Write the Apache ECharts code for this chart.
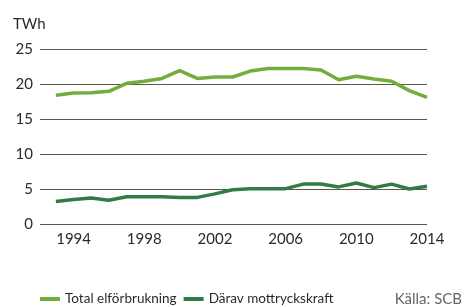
<!DOCTYPE html>
<html>
<head>
<meta charset="utf-8">
<script src="https://cdn.jsdelivr.net/npm/echarts@6/dist/echarts.min.js"></script>
<style>
  html, body { margin: 0; padding: 0; background: #fff; }
  #main { width: 469px; height: 307px; }
</style>
</head>
<body>
<div id="main"></div>
<script>
const years = [1993, 1994, 1995, 1996, 1997, 1998, 1999, 2000, 2001, 2002, 2003,
  2004, 2005, 2006, 2007, 2008, 2009, 2010, 2011, 2012, 2013, 2014];
const total = [18.4, 18.7, 18.75, 18.95, 20.1, 20.4, 20.8, 21.9, 20.8, 21.0, 21.0,
  21.85, 22.2, 22.2, 22.2, 22.0, 20.6, 21.1, 20.7, 20.4, 19.05, 18.1];
const mottryck = [3.2, 3.5, 3.7, 3.4, 3.9, 3.9, 3.9, 3.8, 3.8, 4.3, 4.9,
  5.05, 5.05, 5.05, 5.7, 5.7, 5.3, 5.85, 5.2, 5.7, 5.0, 5.4];
const yearLabels = [1994, 1998, 2002, 2006, 2010, 2014];
const seriesNames = ["Total elförbrukning", "Därav mottryckskraft"];

const font = "Lato, 'Noto Sans', sans-serif";

function pairs(vals) {
  return years.map((y, i) => [y, vals[i]]);
}

var myChart = echarts.init(document.getElementById("main"), null, { renderer: "canvas" });

const options = {
  animation: false,
  textStyle: { fontFamily: font },
  title: {
    text: "TWh",
    left: 8,
    top: 12,
    textStyle: { fontFamily: font, fontSize: 15, fontWeight: "normal", color: "#2a2a2a" }
  },
  grid: { left: 40, right: 42, top: 49, bottom: 83 },
  legend: {
    bottom: 1,
    left: 40,
    padding: 0,
    icon: "rect",
    itemWidth: 20,
    itemHeight: 4,
    itemGap: 7,
    textStyle: { fontFamily: font, fontSize: 13.5, color: "#2a2a2a" },
    data: seriesNames
  },
  graphic: [
    {
      type: "text",
      right: 7,
      bottom: 0,
      style: { text: "Källa: SCB", font: "15px " + font, fill: "#666" }
    }
  ],
  xAxis: {
    type: "value",
    min: 1992.1,
    max: 2014,
    axisLine: { show: false },
    axisTick: { show: false },
    splitLine: { show: false },
    axisLabel: {
      customValues: yearLabels,
      formatter: (v) => String(v),
      margin: 8,
      fontSize: 15,
      color: "#2a2a2a",
      fontFamily: font
    }
  },
  yAxis: {
    type: "value",
    min: 0,
    max: 25,
    interval: 5,
    axisLine: { show: false },
    axisTick: { show: false },
    axisLabel: { margin: 7, fontSize: 15, color: "#2a2a2a", fontFamily: font },
    splitLine: { lineStyle: { color: "#5e5648", width: 1 } }
  },
  series: [
    {
      name: seriesNames[0],
      type: "line",
      data: pairs(total),
      symbol: "none",
      lineStyle: { color: "#74ad3f", width: 3.5 },
      itemStyle: { color: "#74ad3f" }
    },
    {
      name: seriesNames[1],
      type: "line",
      data: pairs(mottryck),
      symbol: "none",
      lineStyle: { color: "#2f7d45", width: 3.5 },
      itemStyle: { color: "#2f7d45" }
    }
  ]
};

myChart.setOption(options);
</script>
</body>
</html>
